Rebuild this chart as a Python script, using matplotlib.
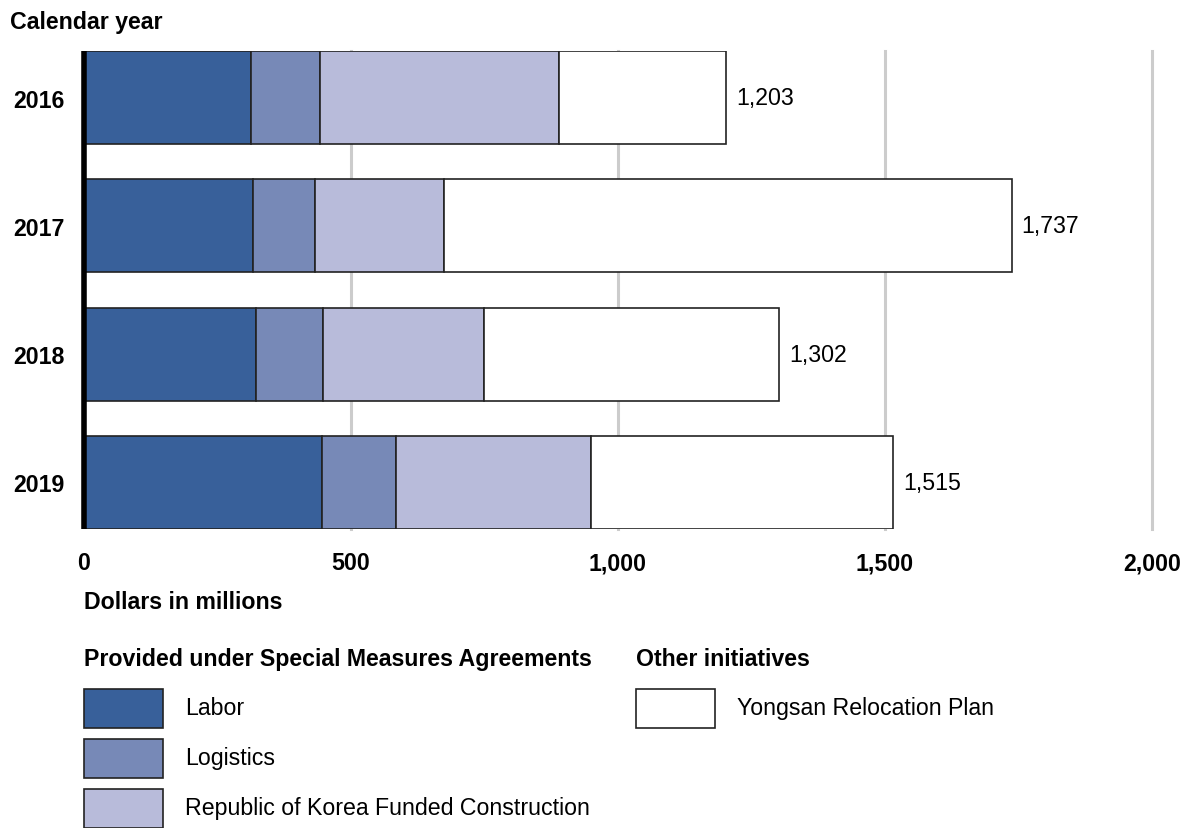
import matplotlib
matplotlib.use("Agg")
import matplotlib.pyplot as plt
from matplotlib.patches import Rectangle

plt.rcParams['font.family'] = ['Liberation Sans', 'DejaVu Sans']

# funding by calendar year, dollars in millions
years = ['2016', '2017', '2018', '2019']
labor = [312, 316, 323, 445]
logistics = [130, 116, 125, 139]
construction = [448, 242, 301, 365]
yongsan = [313, 1063, 553, 566]
totals = [1203, 1737, 1302, 1515]

series = [labor, logistics, construction, yongsan]
series_names = ['Labor', 'Logistics', 'Republic of Korea Funded Construction',
                'Yongsan Relocation Plan']
colors = ['#38609a', '#7789b7', '#b8bbda', '#ffffff']
edge = '#222222'
fs = 16.7

W, H = 1189, 829
fig = plt.figure(figsize=(W / 100, H / 100), dpi=100)
ax = fig.add_axes([84 / W, 1 - 530 / H, (1152 - 84) / W, (530 - 52) / H])

ypos = list(range(len(years)))
left = [0] * len(years)
for vals, c in zip(series, colors):
    ax.barh(ypos, vals, left=left, height=0.725, color=c, edgecolor=edge,
            linewidth=1.2, zorder=3)
    left = [a + b for a, b in zip(left, vals)]

for y, t in zip(ypos, totals):
    ax.text(t + 19, y, f'{t:,}', va='center', ha='left', fontsize=fs)

ax.set_xlim(0, 2000)
ax.set_ylim(3.3625, -0.3625)
ax.set_xticks([0, 500, 1000, 1500, 2000])
ax.set_xticklabels(['0', '500', '1,000', '1,500', '2,000'],
                   fontsize=fs, fontweight='bold')
ax.set_yticks(ypos)
ax.set_yticklabels(years, fontsize=fs, fontweight='bold')
ax.tick_params(axis='x', length=0, pad=16)
ax.tick_params(axis='y', length=0, pad=14)

for g in [500, 1000, 1500, 2000]:
    ax.axvline(g, color='#cccccc', linewidth=2.2, zorder=1, clip_on=False)

for s in ['top', 'right', 'bottom']:
    ax.spines[s].set_visible(False)
ax.spines['left'].set_linewidth(4)
ax.spines['left'].set_color('black')
ax.spines['left'].set_capstyle('butt')
ax.spines['left'].set_zorder(4)

fig.text(10 / W, 1 - 22 / H, 'Calendar year', fontsize=fs, fontweight='bold',
         va='center', ha='left')
fig.text(84 / W, 1 - 603 / H, 'Dollars in millions', fontsize=fs,
         fontweight='bold', va='center', ha='left')

# legend drawn by hand in two groups
fig.text(84 / W, 1 - 660 / H, 'Provided under Special Measures Agreements',
         fontsize=fs, fontweight='bold', va='center', ha='left')
fig.text(636 / W, 1 - 660 / H, 'Other initiatives',
         fontsize=fs, fontweight='bold', va='center', ha='left')

legend_spots = [(84, 690), (84, 740), (84, 790), (636, 690)]
for (x0, y0), name, c in zip(legend_spots, series_names, colors):
    fig.add_artist(Rectangle((x0 / W, 1 - (y0 + 39) / H), 79 / W, 39 / H,
                             transform=fig.transFigure, facecolor=c,
                             edgecolor=edge, linewidth=1.2))
    fig.text((x0 + 101) / W, 1 - (y0 + 19) / H, name, fontsize=fs,
             va='center', ha='left')

fig.savefig('out.png', dpi=100)
